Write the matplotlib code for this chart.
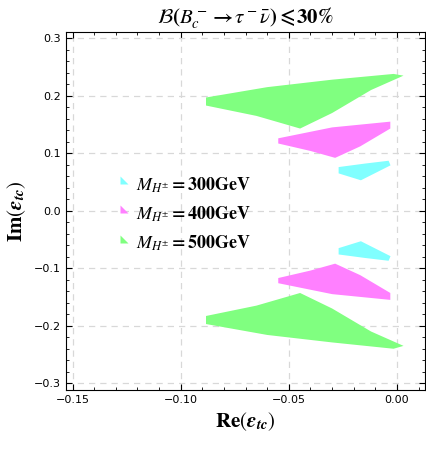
import matplotlib
matplotlib.use("Agg")
import matplotlib.pyplot as plt
from matplotlib.patches import Polygon
from matplotlib.lines import Line2D
from matplotlib.path import Path

plt.rcParams['mathtext.fontset'] = 'stix'

labels = [r'$\boldsymbol{M_{H^{\pm}}}\mathbf{=300GeV}$', r'$\boldsymbol{M_{H^{\pm}}}\mathbf{=400GeV}$', r'$\boldsymbol{M_{H^{\pm}}}\mathbf{=500GeV}$']
colors = ['#80ffff', '#ff80ff', '#80ff80']

cyan_up = [(-0.027,0.076),(-0.015,0.082),(-0.0039,0.087),(-0.003,0.079),(-0.0167,0.053),(-0.027,0.065)]
cyan_dn = [(-0.027,-0.065),(-0.0167,-0.053),(-0.003,-0.079),(-0.0039,-0.087),(-0.015,-0.082),(-0.027,-0.076)]
mag_up = [(-0.0549,0.126),(-0.03,0.145),(-0.0031,0.155),(-0.0031,0.143),(-0.017,0.112),(-0.0286,0.092),(-0.04,0.104),(-0.0549,0.117)]
mag_dn = [(-0.0549,-0.117),(-0.04,-0.104),(-0.0286,-0.092),(-0.017,-0.112),(-0.0031,-0.143),(-0.0031,-0.155),(-0.03,-0.145),(-0.0549,-0.126)]
grn_up = [(-0.0883,0.197),(-0.06,0.215),(-0.03,0.228),(-0.0016,0.238),(0.003,0.235),(-0.012,0.21),(-0.03,0.17),(-0.0448,0.143),(-0.065,0.165),(-0.0883,0.183)]
grn_dn = [(-0.0883,-0.183),(-0.065,-0.165),(-0.0448,-0.143),(-0.03,-0.17),(-0.012,-0.21),(0.003,-0.235),(-0.0016,-0.24),(-0.03,-0.229),(-0.06,-0.216),(-0.0883,-0.197)]
regions = [(cyan_up, cyan_dn), (mag_up, mag_dn), (grn_up, grn_dn)]

fig = plt.figure(figsize=(4.26, 4.5), dpi=100)
ax = fig.add_axes([0.155, 0.133, 0.843, 0.796])
for (up, dn), c in zip(regions, colors):
    for poly in (up, dn):
        ax.add_patch(Polygon(poly, closed=True, facecolor=c, edgecolor='none'))

ax.set_xlim(-0.153, 0.013)
ax.set_ylim(-0.312, 0.311)
ax.set_xticks([-0.15, -0.10, -0.05, 0.00])
ax.set_xticklabels(['\u22120.15', '\u22120.10', '\u22120.05', '0.00'])
ax.set_yticks([-0.3, -0.2, -0.1, 0.0, 0.1, 0.2, 0.3])
ax.set_yticklabels(['\u22120.3', '\u22120.2', '\u22120.1', '0.0', '0.1', '0.2', '0.3'])
ax.minorticks_on()
ax.tick_params(which='both', direction='in', top=True, right=True, labelsize=8)
ax.tick_params(which='major', length=4)
ax.tick_params(which='minor', length=2)
ax.grid(True, which='major', ls=(0, (5, 4)), color='#d8d8d8', lw=0.9)
ax.set_axisbelow(True)

ax.set_xlabel(r'$\mathbf{Re}(\boldsymbol{\epsilon}_{\boldsymbol{tc}})$', fontsize=15)
ax.set_ylabel(r'$\mathbf{Im}(\boldsymbol{\epsilon}_{\boldsymbol{tc}})$', fontsize=15)
ax.set_title(r'$\boldsymbol{\mathcal{B}(B_c^- \to \tau^- \bar{\nu}) \leqslant 30\%}$', fontsize=15, pad=6)

tri = Path([(0, 1), (0, 0), (1, 0), (0, 1)], [Path.MOVETO, Path.LINETO, Path.LINETO, Path.CLOSEPOLY])
handles = [Line2D([], [], marker=tri, ls='none', markersize=12, markerfacecolor=c, markeredgecolor='none') for c in colors]
ax.legend(handles, labels, loc='upper left', bbox_to_anchor=(0.08, 0.645), frameon=False, fontsize=13,
          handletextpad=0.4, labelspacing=0.55, handlelength=1.0)

fig.savefig('out.png', dpi=100)
